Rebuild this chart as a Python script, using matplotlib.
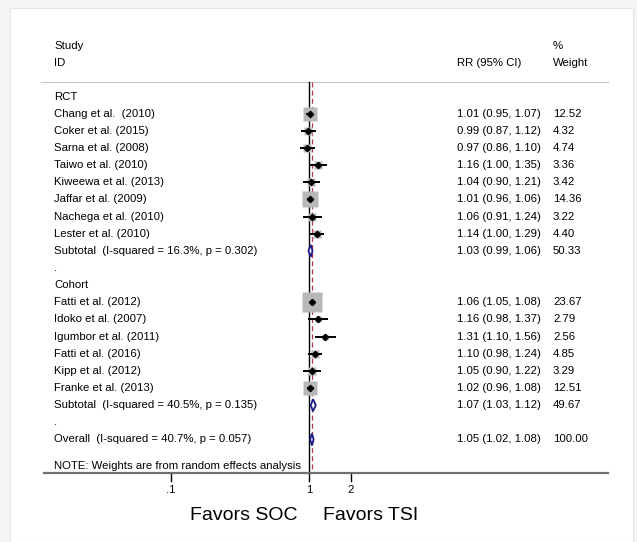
import matplotlib
matplotlib.use("Agg")
import matplotlib.pyplot as plt
from matplotlib.patches import Rectangle, Polygon
import numpy as np

plt.rcParams['font.family'] = ['Liberation Sans', 'DejaVu Sans']

# ---------------- data ----------------
rct_studies = ["Chang et al.  (2010)", "Coker et al. (2015)", "Sarna et al. (2008)",
               "Taiwo et al. (2010)", "Kiweewa et al. (2013)", "Jaffar et al. (2009)",
               "Nachega et al. (2010)", "Lester et al. (2010)"]
rct_rr = [1.01, 0.99, 0.97, 1.16, 1.04, 1.01, 1.06, 1.14]
rct_lo = [0.95, 0.87, 0.86, 1.00, 0.90, 0.96, 0.91, 1.00]
rct_hi = [1.07, 1.12, 1.10, 1.35, 1.21, 1.06, 1.24, 1.29]
rct_w = [12.52, 4.32, 4.74, 3.36, 3.42, 14.36, 3.22, 4.40]
rct_sub = (1.03, 0.99, 1.06, 50.33)
rct_sub_label = "Subtotal  (I-squared = 16.3%, p = 0.302)"

coh_studies = ["Fatti et al. (2012)", "Idoko et al. (2007)", "Igumbor et al. (2011)",
               "Fatti et al. (2016)", "Kipp et al. (2012)", "Franke et al. (2013)"]
coh_rr = [1.06, 1.16, 1.31, 1.10, 1.05, 1.02]
coh_lo = [1.05, 0.98, 1.10, 0.98, 0.90, 0.96]
coh_hi = [1.08, 1.37, 1.56, 1.24, 1.22, 1.08]
coh_w = [23.67, 2.79, 2.56, 4.85, 3.29, 12.51]
coh_sub = (1.07, 1.03, 1.12, 49.67)
coh_sub_label = "Subtotal  (I-squared = 40.5%, p = 0.135)"

overall = (1.05, 1.02, 1.08, 100.00)
overall_label = "Overall  (I-squared = 40.7%, p = 0.057)"
note = "NOTE: Weights are from random effects analysis"

tick_vals = [0.1, 1, 2]
tick_labels = [".1", "1", "2"]

# ---------------- layout ----------------
W, H = 637, 542
fig = plt.figure(figsize=(W / 100, H / 100), dpi=100)
fig.patch.set_facecolor('#f3f4f6')
ax = fig.add_axes([0, 0, 1, 1])
ax.set_xscale('log')
x1px, dec = 309.0, 138.0  # pixel of RR=1, pixels per decade
ax.set_xlim(10 ** (-x1px / dec), 10 ** ((W - x1px) / dec))
ax.set_ylim(H, 0)
ax.axis('off')
ax.patch.set_alpha(0)
ax.add_patch(Rectangle((10 / W, 0), (633 - 10) / W, (542 - 8) / H,
                       transform=ax.transAxes, facecolor='white',
                       edgecolor='#e6e7ea', lw=0.8, zorder=0))

tr = ax.get_yaxis_transform()  # x in axes fraction, y in data (pixel rows)
def fx(px):
    return px / W

FS = 8.2
y0, dy = 96.5, 17.15
x_lab, x_rr, x_w = 54, 457, 553
y_top, y_axis = 82, 473

def fmt(est, lo, hi):
    return f"{est:.2f} ({lo:.2f}, {hi:.2f})"

# headers
ax.text(fx(x_lab), 46, "Study", transform=tr, fontsize=FS, va='center')
ax.text(fx(x_lab), 63, "ID", transform=tr, fontsize=FS, va='center')
ax.text(fx(x_rr), 63, "RR (95% CI)", transform=tr, fontsize=FS, va='center')
ax.text(fx(x_w), 46, "%", transform=tr, fontsize=FS, va='center')
ax.text(fx(x_w), 63, "Weight", transform=tr, fontsize=FS, va='center')
ax.plot([fx(41), fx(608)], [y_top, y_top], transform=tr, color='#c8c8c8', lw=0.9)

# reference lines
ax.plot([1, 1], [y_top, y_axis], color='black', lw=1.0, zorder=2)
ax.plot([overall[0]] * 2, [y_top, y_axis], color='#b5394a', lw=0.9,
        dashes=(4, 2.5), zorder=2)

def study_row(i, name, est, lo, hi, w):
    y = y0 + i * dy
    ax.text(fx(x_lab), y, name, transform=tr, fontsize=FS, va='center')
    side = 4.0 * np.sqrt(w)
    ax.plot([est], [y], marker='s', ms=side * 0.72, color='#b8b8b8', mec='none',
            ls='none', zorder=3)
    ax.plot([lo, hi], [y, y], color='black', lw=1.4, zorder=4, solid_capstyle='butt')
    ax.plot([est], [y], marker='D', ms=3.2, color='black', ls='none', zorder=5)
    ax.text(fx(x_rr), y, fmt(est, lo, hi), transform=tr, fontsize=FS, va='center')
    ax.text(fx(x_w), y, f"{w:.2f}", transform=tr, fontsize=FS, va='center')

def diamond_row(i, label, vals):
    est, lo, hi, w = vals
    y = y0 + i * dy
    h = 6.0
    ax.add_patch(Polygon([[lo, y], [est, y - h], [hi, y], [est, y + h]], closed=True,
                         facecolor='white', edgecolor='#1c1c8a', lw=1.3, zorder=5))
    ax.text(fx(x_lab), y, label, transform=tr, fontsize=FS, va='center')
    ax.text(fx(x_rr), y, fmt(est, lo, hi), transform=tr, fontsize=FS, va='center')
    ax.text(fx(x_w), y, f"{w:.2f}", transform=tr, fontsize=FS, va='center')

row = 0
ax.text(fx(x_lab), y0 + row * dy, "RCT", transform=tr, fontsize=FS, va='center')
row += 1
for k in range(len(rct_studies)):
    study_row(row, rct_studies[k], rct_rr[k], rct_lo[k], rct_hi[k], rct_w[k])
    row += 1
diamond_row(row, rct_sub_label, rct_sub)
row += 1
ax.text(fx(x_lab), y0 + row * dy, ".", transform=tr, fontsize=FS, va='center')
row += 1
ax.text(fx(x_lab), y0 + row * dy, "Cohort", transform=tr, fontsize=FS, va='center')
row += 1
for k in range(len(coh_studies)):
    study_row(row, coh_studies[k], coh_rr[k], coh_lo[k], coh_hi[k], coh_w[k])
    row += 1
diamond_row(row, coh_sub_label, coh_sub)
row += 1
ax.text(fx(x_lab), y0 + row * dy, ".", transform=tr, fontsize=FS, va='center')
row += 1
diamond_row(row, overall_label, overall)

ax.text(fx(x_lab), 466, note, transform=tr, fontsize=FS, va='center')

# x axis
ax.plot([fx(44), fx(608)], [y_axis, y_axis], transform=tr, color='#6f6f6f', lw=1.6,
        zorder=6)
for v, lab in zip(tick_vals, tick_labels):
    ax.plot([v, v], [y_axis, y_axis + 8], color='black', lw=1.0)
    ax.text(v, y_axis + 17, lab, fontsize=FS, ha='center', va='center')

ax.text(fx(298), 516, "Favors SOC", transform=tr, fontsize=14, ha='right', va='center')
ax.text(fx(323), 516, "Favors TSI", transform=tr, fontsize=14, ha='left', va='center')

fig.savefig("out.png", dpi=100, facecolor=fig.get_facecolor())
